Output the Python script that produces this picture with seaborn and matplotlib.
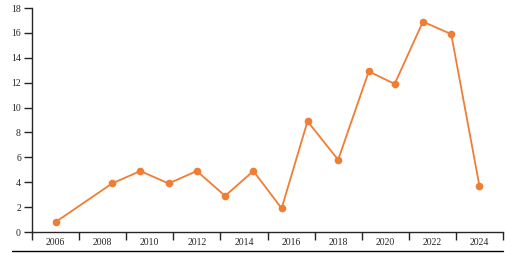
import matplotlib
matplotlib.use("Agg")
import matplotlib.pyplot as plt
import seaborn as sns
import pandas as pd
from matplotlib.lines import Line2D
from matplotlib.ticker import FixedLocator, NullFormatter

# positions on the time axis
year_pos = [2006.0, 2008.4, 2009.6, 2010.8, 2012.0, 2013.2, 2014.4, 2015.6,
            2016.7, 2018.0, 2019.3, 2020.4, 2021.6, 2022.8, 2024.0]
counts = [0.8, 3.9, 4.9, 3.9, 4.9, 2.9, 4.9, 1.9, 8.9, 5.8, 12.9, 11.9, 16.9, 15.9, 3.7]
year_labels = list(range(2006, 2025, 2))

df = pd.DataFrame({"year": year_pos, "count": counts})

sns.set_style("ticks")
plt.rcParams['font.family'] = ['Liberation Serif', 'DejaVu Serif']

fig = plt.figure(figsize=(5.06, 2.54), dpi=100)
ax = fig.add_axes([32 / 506, 22 / 254, 471 / 506, 224 / 254])

sns.lineplot(data=df, x="year", y="count", ax=ax, color="#ef7d33",
             marker="o", markersize=5.5, markeredgewidth=0, linewidth=1.3)

ax.set_xlim(2005, 2025)
ax.set_ylim(0, 18)
ax.set_yticks(range(0, 19, 2))
ax.xaxis.set_major_locator(FixedLocator(range(2005, 2026, 2)))
ax.xaxis.set_major_formatter(NullFormatter())
ax.xaxis.set_minor_locator(FixedLocator(year_labels))
ax.set_xticklabels([str(y) for y in year_labels], minor=True)
ax.tick_params(axis="x", which="minor", length=0, pad=4, labelsize=7)
ax.tick_params(axis="x", which="major", length=6, width=1, direction="out")
ax.tick_params(axis="y", length=6, width=1, pad=2, labelsize=7)
ax.set_xlabel("")
ax.set_ylabel("")
sns.despine(ax=ax)
ax.spines["left"].set_linewidth(1)
ax.spines["bottom"].set_linewidth(1)

fig.add_artist(Line2D([12 / 506, 503 / 506], [3 / 254, 3 / 254], color="black", linewidth=1))

fig.savefig("out.png", dpi=100)
